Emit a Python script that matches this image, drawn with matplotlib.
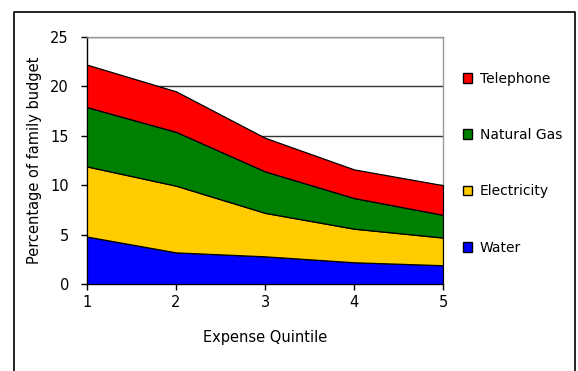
import matplotlib
matplotlib.use("Agg")
import matplotlib.pyplot as plt
from matplotlib.patches import Patch
from matplotlib.lines import Line2D

plt.rcParams["font.family"] = ["DejaVu Sans"]

# data (per category, stacked bottom -> top)
quintiles = [1, 2, 3, 4, 5]
water = [4.8, 3.2, 2.8, 2.2, 1.9]
electricity = [7.1, 6.75, 4.4, 3.4, 2.8]
natural_gas = [6.0, 5.45, 4.2, 3.1, 2.3]
telephone = [4.3, 4.1, 3.4, 2.9, 3.0]

labels = ["Water", "Electricity", "Natural Gas", "Telephone"]
colors = ["#0000FF", "#FFCC00", "#008000", "#FF0000"]

fig = plt.figure(figsize=(5.78, 3.71), dpi=100)
ax = fig.add_axes([87 / 578, 1 - 284 / 371, (443 - 87) / 578, (284 - 37) / 371])

ax.stackplot(quintiles, water, electricity, natural_gas, telephone,
             colors=colors, edgecolor="black", linewidth=0.9, zorder=3)

ax.set_xlim(1, 5)
ax.set_ylim(0, 25)
ax.set_xticks(quintiles)
ax.set_yticks([0, 5, 10, 15, 20, 25])
ax.yaxis.grid(True, color="#333333", linewidth=1.0, zorder=0)
ax.set_axisbelow(True)

for side in ("left", "bottom"):
    ax.spines[side].set_color("black")
    ax.spines[side].set_linewidth(1.0)
for side in ("top", "right"):
    ax.spines[side].set_color("#999999")
    ax.spines[side].set_linewidth(1.0)

ax.tick_params(axis="both", direction="out", length=4, width=1, labelsize=10.5)
ax.tick_params(axis="x", pad=4)
ax.tick_params(axis="y", pad=9)
ax.set_xlabel("Expense Quintile", fontsize=10.5, labelpad=14)
ax.set_ylabel("Percentage of family budget", fontsize=10.5, labelpad=6)

# legend (top entry first, like the reference)
handles = [Patch(facecolor=c, edgecolor="black", linewidth=1.0) for c in colors][::-1]
fig.legend(handles, labels[::-1], loc="upper left",
           bbox_to_anchor=(457 / 578, 1 - 66 / 371), frameon=False,
           fontsize=10, handlelength=0.7, handleheight=0.7,
           handletextpad=0.55, labelspacing=3.05, borderaxespad=0)

# outer border (left, top, right), as in the reference
fx = [14 / 578, 14 / 578, 575 / 578, 575 / 578]
fy = [0, 1 - 12 / 371, 1 - 12 / 371, 0]
fig.add_artist(Line2D(fx, fy, transform=fig.transFigure, color="black", linewidth=1.2))

fig.savefig("out.png", dpi=100)
